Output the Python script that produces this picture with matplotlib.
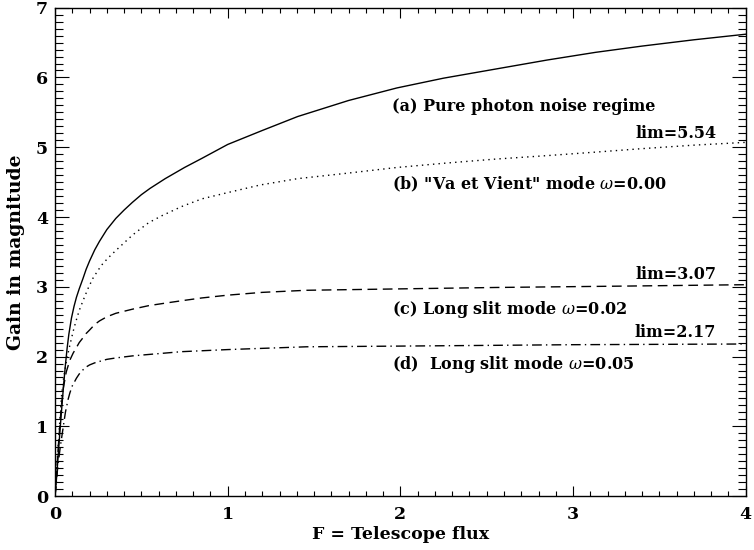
import numpy as np
import matplotlib.pyplot as plt
from matplotlib.ticker import MultipleLocator

# Values
flux_a = [0.0, 0.01, 0.02, 0.03, 0.04, 0.05, 0.06, 0.07, 0.08, 0.095, 0.11, 0.124,
          0.14, 0.162, 0.18, 0.2, 0.23, 0.257, 0.3, 0.352, 0.4, 0.448, 0.5, 0.55,
          0.638, 0.75, 0.85, 1.0, 1.2, 1.405, 1.7, 1.98, 2.25, 2.55, 2.85, 3.13,
          3.4, 3.7, 4.0]
gain_a = [0.0, 0.3, 0.65, 0.98, 1.3, 1.6, 1.88, 2.12, 2.32, 2.55, 2.72, 2.85,
          2.97, 3.12, 3.25, 3.37, 3.53, 3.65, 3.82, 3.98, 4.1, 4.21, 4.32, 4.41,
          4.55, 4.71, 4.84, 5.04, 5.24, 5.44, 5.67, 5.85, 5.99, 6.12, 6.25, 6.36,
          6.45, 6.54, 6.62]

flux_b = [0.0, 0.02, 0.038, 0.05, 0.067, 0.08, 0.095, 0.11, 0.124, 0.14, 0.162,
          0.19, 0.219, 0.25, 0.276, 0.31, 0.352, 0.4, 0.448, 0.5, 0.543, 0.62,
          0.733, 0.85, 1.0, 1.19, 1.405, 1.7, 1.98, 2.25, 2.55, 2.85, 3.13, 3.4,
          3.7, 4.0]
gain_b = [0.0, 0.8, 1.45, 1.7, 1.95, 2.1, 2.26, 2.41, 2.53, 2.66, 2.8,
          2.97, 3.12, 3.24, 3.33, 3.42, 3.52, 3.63, 3.74, 3.84, 3.92, 4.02,
          4.15, 4.26, 4.35, 4.46, 4.55, 4.63, 4.71, 4.77, 4.83, 4.88, 4.93, 4.98,
          5.03, 5.07]

flux_c = [0.0, 0.02, 0.035, 0.048, 0.065, 0.086, 0.105, 0.124, 0.14, 0.162, 0.18,
          0.2, 0.23, 0.257, 0.3, 0.352, 0.45, 0.543, 0.65, 0.733, 0.85, 1.0, 1.2,
          1.457, 2.0, 2.55, 3.3, 4.0]
gain_c = [0.0, 0.75, 1.25, 1.55, 1.78, 1.95, 2.05, 2.13, 2.2, 2.27, 2.33,
          2.38, 2.46, 2.51, 2.57, 2.62, 2.68, 2.73, 2.77, 2.80, 2.84, 2.88, 2.92,
          2.95, 2.97, 2.99, 3.01, 3.03]

flux_d = [0.0, 0.015, 0.03, 0.048, 0.06, 0.075, 0.086, 0.1, 0.124, 0.14, 0.162,
          0.18, 0.2, 0.23, 0.257, 0.3, 0.352, 0.45, 0.543, 0.733, 1.0, 1.457,
          2.0, 3.0, 4.0]
gain_d = [0.0, 0.4, 0.7, 1.0, 1.2, 1.38, 1.48, 1.58, 1.69, 1.75, 1.81,
          1.85, 1.88, 1.91, 1.93, 1.96, 1.98, 2.01, 2.03, 2.07, 2.10, 2.14,
          2.15, 2.17, 2.18]

labels = ['(a) Pure photon noise regime',
          '(b) "Va et Vient" mode $\\omega$=0.00',
          '(c) Long slit mode $\\omega$=0.02',
          '(d)  Long slit mode $\\omega$=0.05']
label_y = [5.58, 4.47, 2.67, 1.89]
lim_text = ['lim=5.54', 'lim=3.07', 'lim=2.17']
lim_y = [5.19, 3.18, 2.34]

plt.rcParams['font.family'] = 'DejaVu Serif'
plt.rcParams['mathtext.fontset'] = 'dejavuserif'

fig = plt.figure(figsize=(7.54, 5.5), dpi=100)
ax = fig.add_axes([0.073, 0.098, 0.916, 0.888])

ax.plot(flux_a, gain_a, color='black', lw=1.0, ls='-')
ax.plot(flux_b, gain_b, color='black', lw=1.0, ls=(0, (1, 3)))
ax.plot(flux_c, gain_c, color='black', lw=1.0, ls=(0, (7, 4)))
ax.plot(flux_d, gain_d, color='black', lw=1.0, ls=(0, (7, 3, 1, 3)))

for txt, y in zip(labels, label_y):
    ax.text(1.95, y, txt, fontsize=11.5, fontweight='bold', va='center', ha='left')
for txt, y in zip(lim_text, lim_y):
    ax.text(3.83, y, txt, fontsize=11.5, fontweight='bold', va='center', ha='right')

ax.set_xlim(0, 4)
ax.set_ylim(0, 7)
ax.xaxis.set_major_locator(MultipleLocator(1))
ax.xaxis.set_minor_locator(MultipleLocator(0.1))
ax.yaxis.set_major_locator(MultipleLocator(1))
ax.yaxis.set_minor_locator(MultipleLocator(0.1))
ax.tick_params(axis='both', which='both', direction='in', top=True, right=True,
               width=0.8, labelsize=12.5)
ax.tick_params(axis='x', which='major', length=7, pad=7)
ax.tick_params(axis='x', which='minor', length=3.5)
ax.tick_params(axis='y', which='major', length=10, pad=5)
ax.tick_params(axis='y', which='minor', length=5.5)
for lab in ax.get_xticklabels() + ax.get_yticklabels():
    lab.set_fontweight('bold')
for s in ax.spines.values():
    s.set_linewidth(1.0)

ax.set_xlabel('F = Telescope flux', fontsize=12.5, fontweight='bold', labelpad=2)
ax.set_ylabel('Gain in magnitude', fontsize=13.5, fontweight='bold', labelpad=8)

fig.savefig('out.png', dpi=100)
